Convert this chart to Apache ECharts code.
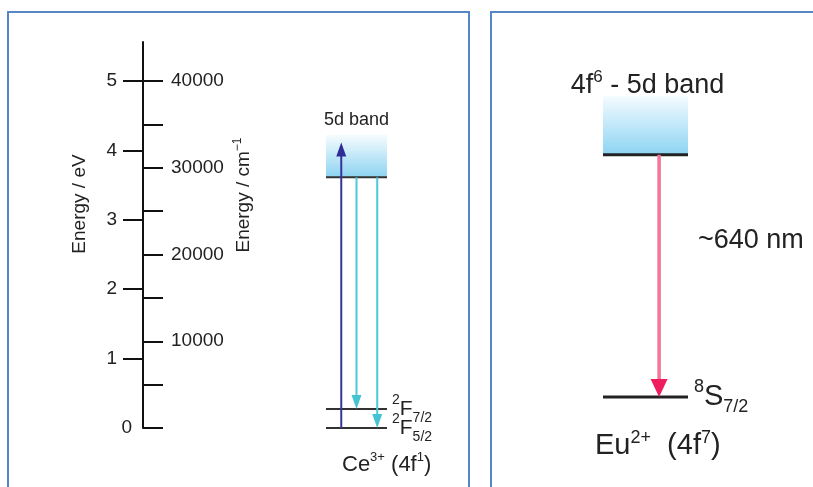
<!DOCTYPE html>
<html>
<head>
<meta charset="utf-8">
<script src="https://cdn.jsdelivr.net/npm/echarts@6/dist/echarts.min.js"></script>
<style>
html,body{margin:0;padding:0;background:#fff;}
#c{width:813px;height:487px;}
</style>
</head>
<body>
<div id="c"></div>
<script>
// ================= DATA =================
// Energy axis (cm⁻¹) ticks and labels
const cmTicks = [0, 5000, 10000, 15000, 20000, 25000, 30000, 35000, 40000];
const cmLabels = [10000, 20000, 30000, 40000];
const cmAxisMax = 44500;
// Energy axis (eV) ticks and labels (figure draws 5 eV level with 40000 cm⁻¹)
const eVTicks = [1, 2, 3, 4, 5];
const eVLabels = [1, 2, 3, 4, 5];
const eVZeroLabel = [0];
const eVAxisMax = 5.5625;

// Ce3+ (4f1) levels, cm⁻¹
const ceLevelEnergies = [0, 2200, 28900];          // 2F5/2, 2F7/2, 5d band bottom
const ceBand = [28900, 33800];                     // 5d band bottom, top
const ceAbsorption = [[0, 32900]];                 // [from, to]
const ceEmission = [[28900, 2200], [28900, 0]];    // [from, to]

// Eu2+ (4f7) levels, cm⁻¹
const euLevelEnergies = [0, 15625];                // 8S7/2, 4f6-5d band bottom
const euBand = [15625, 19400];                     // band bottom, top
const euEmission = [[15625, 0]];                   // ~640 nm
const euAxisMax = 20000;

// Texts
const ceLevelLabels = ['{sup|2}{b|F}{sub|5/2}', '{sup|2}{b|F}{sub|7/2}', null];
const ceCaption = '{b|Ce}{sup|3+}{b| (4f}{sup|1}{b|)}';
const ceBandLabel = '5d band';
const euLevelLabels = ['{sup|8}{b|S}{sub|7/2}', null];
const euCaption = '{b|Eu}{sup|2+}{b|  (4f}{sup|7}{b|)}';
const euBandLabel = '{b|4f}{sup|6}{b| - 5d band}';
const euEmissionLabel = '~640 nm';
const eVAxisName = 'Energy / eV';
const cmAxisName = '{b|Energy / cm}{sup|−1}';

// ================= LAYOUT / STYLE =================
const FONT = "'Liberation Sans', Arial, Helvetica, sans-serif";
const TXT = '#222';
const ceArrowSlots = [0.25, 0.5, 0.84];
const euArrowSlots = [0.66];

function rich(base, small, lh) {
  return {
    b: {fontSize: base, lineHeight: lh, verticalAlign: 'middle', fontFamily: FONT, fill: TXT},
    sup: {fontSize: small, lineHeight: small, verticalAlign: 'top', fontFamily: FONT, fill: TXT},
    sub: {fontSize: small, lineHeight: small, verticalAlign: 'bottom', fontFamily: FONT, fill: TXT}
  };
}
const richCeLevel = rich(21, 14, 32);
const richCeCap = rich(22, 13, 28);
const richEuBand = rich(27, 17, 32);
const richEuLevel = rich(29, 18, 38);
const richEuCap = rich(29, 18, 34);
const richAxis = rich(19, 12, 24);

function levelRenderer(o) {
  return function (params, api) {
    const e = api.value(1);
    const p0 = api.coord([0, e]), p1 = api.coord([1, e]);
    const ch = [{type: 'line', shape: {x1: p0[0], y1: p0[1], x2: p1[0], y2: p1[1]},
      style: {stroke: o.color, lineWidth: o.width}}];
    const lab = o.labels[params.dataIndex];
    if (lab) ch.push({type: 'text', style: {text: lab, x: p1[0] + o.gap, y: p1[1],
      align: 'left', verticalAlign: 'middle', rich: o.rich, fill: TXT}});
    if (params.dataIndex === 0 && o.caption) ch.push({type: 'text', style: {text: o.caption,
      x: p0[0] + o.capDx, y: p0[1] + o.capDy, align: 'left', verticalAlign: 'middle', rich: o.capRich, fill: TXT}});
    return {type: 'group', children: ch};
  };
}
function bandRenderer(o) {
  return function (params, api) {
    const lo = api.value(1), hi = api.value(2);
    const a = api.coord([0, hi]), b = api.coord([1, lo]);
    const lab = o.rich
      ? {type: 'text', style: {text: o.label, x: (a[0] + b[0]) / 2 + o.dx, y: a[1] - o.gap, align: 'center',
          verticalAlign: 'middle', rich: o.rich, fill: TXT}}
      : {type: 'text', style: {text: o.label, x: (a[0] + b[0]) / 2 + o.dx, y: a[1] - o.gap, align: 'center',
          verticalAlign: 'middle', fontSize: o.fontSize, fontFamily: FONT, fill: TXT}};
    return {type: 'group', children: [
      {type: 'rect', shape: {x: a[0], y: a[1], width: b[0] - a[0], height: b[1] - a[1]},
        style: {fill: new echarts.graphic.LinearGradient(0, 0, 0, 1, [
          {offset: 0, color: o.top}, {offset: 1, color: o.bottom}])}},
      lab
    ]};
  };
}
function arrowRenderer(o) {
  return function (params, api) {
    const x = api.value(0), from = api.value(1), to = api.value(2);
    const a = api.coord([x, from]), b = api.coord([x, to]);
    const dir = b[1] < a[1] ? -1 : 1;
    const baseY = b[1] - dir * o.hl;
    const col = o.colors[params.dataIndex];
    const ch = [
      {type: 'line', shape: {x1: a[0], y1: a[1], x2: b[0], y2: baseY + dir * 1},
        style: {stroke: col, lineWidth: o.lw}},
      {type: 'polygon', shape: {points: [[b[0], b[1]], [b[0] - o.hw / 2, baseY], [b[0] + o.hw / 2, baseY]]},
        style: {fill: o.heads[params.dataIndex]}}
    ];
    if (o.label) {
      const m = api.coord([1, (from + to) / 2]);
      ch.push({type: 'text', style: {text: o.label, x: m[0] + o.labDx, y: m[1] + o.labDy, align: 'left',
        verticalAlign: 'middle', fontSize: o.labSize, fontFamily: FONT, fill: TXT}});
    }
    return {type: 'group', children: ch};
  };
}

const chart = echarts.init(document.getElementById('c'), null, {renderer: 'canvas'});
const hiddenY = (gi, max) => ({gridIndex: gi, type: 'value', min: 0, max: max, show: false});
const labelStyle = {color: TXT, fontSize: 19, fontFamily: FONT, padding: [7, 0, 0, 0], formatter: v => String(v)};

chart.setOption({
  animation: false,
  backgroundColor: '#fff',
  grid: [
    {left: 143, top: 42, width: 1, height: 386, outerBoundsMode: 'none'},
    {left: 326, top: 42, width: 61, height: 386, outerBoundsMode: 'none'},
    {left: 603, top: 87, width: 85, height: 310, outerBoundsMode: 'none'}
  ],
  xAxis: [
    {gridIndex: 0, type: 'value', min: 0, max: 1, show: false},
    {gridIndex: 1, type: 'value', min: 0, max: 1, show: false},
    {gridIndex: 2, type: 'value', min: 0, max: 1, show: false}
  ],
  yAxis: [
    {gridIndex: 0, type: 'value', position: 'left', min: 0, max: cmAxisMax,
      axisLine: {show: true, lineStyle: {color: '#111', width: 2}},
      axisTick: {show: true, inside: true, length: 20, customValues: cmTicks, lineStyle: {color: '#111', width: 2}},
      axisLabel: Object.assign({show: true, inside: true, margin: 28, customValues: cmLabels}, labelStyle),
      splitLine: {show: false}},
    {gridIndex: 0, type: 'value', position: 'left', min: 0, max: eVAxisMax,
      axisLine: {show: false},
      axisTick: {show: true, length: 20, customValues: eVTicks, lineStyle: {color: '#111', width: 2}},
      axisLabel: Object.assign({show: true, margin: 26, customValues: eVLabels}, labelStyle),
      splitLine: {show: false}},
    {gridIndex: 0, type: 'value', position: 'left', min: 0, max: eVAxisMax,
      axisLine: {show: false}, axisTick: {show: false},
      axisLabel: Object.assign({show: true, margin: 11, customValues: eVZeroLabel}, labelStyle),
      splitLine: {show: false}},
    hiddenY(1, cmAxisMax),
    hiddenY(2, euAxisMax)
  ],
  graphic: [
    {type: 'rect', shape: {x: 8, y: 12, width: 461, height: 520}, style: {fill: 'none', stroke: '#5686c6', lineWidth: 2}},
    {type: 'rect', shape: {x: 491, y: 12, width: 400, height: 520}, style: {fill: 'none', stroke: '#5686c6', lineWidth: 2}},
    {type: 'text', x: 80, y: 204, rotation: Math.PI / 2,
      style: {text: eVAxisName, align: 'center', verticalAlign: 'middle', fontSize: 19, fontFamily: FONT, fill: TXT}},
    {type: 'text', x: 244, y: 195, rotation: Math.PI / 2,
      style: {text: cmAxisName, align: 'center', verticalAlign: 'middle', rich: richAxis, fill: TXT}}
  ],
  series: [
    // Ce3+
    {type: 'custom', coordinateSystem: 'cartesian2d', xAxisIndex: 1, yAxisIndex: 3, z: 1,
      data: [[0, ceBand[0], ceBand[1]]],
      renderItem: bandRenderer({top: '#f6fcfe', bottom: '#8cd3f1', label: ceBandLabel, fontSize: 18, dx: 0, gap: 15})},
    {type: 'custom', coordinateSystem: 'cartesian2d', xAxisIndex: 1, yAxisIndex: 3, z: 2,
      data: ceLevelEnergies.map(e => [0, e]),
      renderItem: levelRenderer({color: '#333', width: 2, labels: ceLevelLabels, gap: 5, rich: richCeLevel,
        caption: ceCaption, capRich: richCeCap, capDx: 16, capDy: 37})},
    {type: 'custom', coordinateSystem: 'cartesian2d', xAxisIndex: 1, yAxisIndex: 3, z: 3,
      data: ceAbsorption.concat(ceEmission).map((t, i) => [ceArrowSlots[i], t[0], t[1]]),
      renderItem: arrowRenderer({lw: 2, hw: 10, hl: 14,
        colors: ['#34349c', '#4cc8d6', '#4cc8d6'], heads: ['#2e2e96', '#44c4d3', '#44c4d3']})},
    // Eu2+
    {type: 'custom', coordinateSystem: 'cartesian2d', xAxisIndex: 2, yAxisIndex: 4, z: 1,
      data: [[0, euBand[0], euBand[1]]],
      renderItem: bandRenderer({top: '#f4fbfe', bottom: '#8cd4f3', label: euBandLabel, rich: richEuBand, dx: 2, gap: 11})},
    {type: 'custom', coordinateSystem: 'cartesian2d', xAxisIndex: 2, yAxisIndex: 4, z: 2,
      data: euLevelEnergies.map(e => [0, e]),
      renderItem: levelRenderer({color: '#222', width: 3, labels: euLevelLabels, gap: 6, rich: richEuLevel,
        caption: euCaption, capRich: richEuCap, capDx: -8, capDy: 49})},
    {type: 'custom', coordinateSystem: 'cartesian2d', xAxisIndex: 2, yAxisIndex: 4, z: 3,
      data: euEmission.map((t, i) => [euArrowSlots[i], t[0], t[1]]),
      renderItem: arrowRenderer({lw: 3.5, hw: 17, hl: 18, colors: ['#f3739b'], heads: ['#ef1d5e'],
        label: euEmissionLabel, labDx: 10, labDy: -35, labSize: 27})}
  ]
});
</script>
</body>
</html>
